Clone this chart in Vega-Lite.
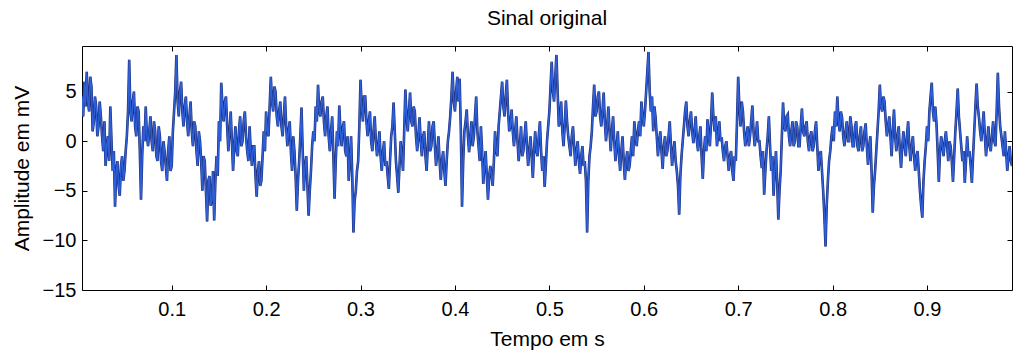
{
 "$schema": "https://vega.github.io/schema/vega-lite/v6.json",
 "width": 930, "height": 244,
 "autosize": {"type": "none"},
 "padding": {"left": 82, "top": 46, "right": 3, "bottom": 61},
 "background": "white",
 "config": {
  "view": {"stroke": null},
  "font": "Liberation Sans",
  "axis": {"domain": true, "domainColor": "#000", "domainWidth": 1, "grid": false, "tickSize": -5, "tickColor": "#000", "tickWidth": 1, "labelColor": "#000", "labelFontSize": 20, "titleFontSize": 21, "titleFontWeight": "normal", "titleColor": "#000"}
 },
 "title": {"text": "Sinal original", "fontSize": 21, "fontWeight": "normal", "color": "#000", "offset": 17},
 "data": {"values": [
{"t":0.005,"v":4.5},{"t":0.00625,"v":2.5},{"t":0.0075,"v":6.0},{"t":0.00875,"v":3.5},{"t":0.01,"v":7.0},{"t":0.01125,"v":4.0},{"t":0.0125,"v":3.0},{"t":0.01375,"v":6.5},
{"t":0.015,"v":5.5},{"t":0.01625,"v":1.0},{"t":0.0175,"v":2.0},{"t":0.01875,"v":4.5},{"t":0.02,"v":3.5},{"t":0.02125,"v":0.5},{"t":0.0225,"v":1.5},{"t":0.02375,"v":4.0},
{"t":0.025,"v":2.5},{"t":0.02625,"v":0.5},{"t":0.0275,"v":-1.0},{"t":0.02875,"v":2.0},{"t":0.03,"v":-2.5},{"t":0.03125,"v":-0.5},{"t":0.0325,"v":0.5},{"t":0.03375,"v":-2.0},
{"t":0.035,"v":3.5},{"t":0.03625,"v":0.0},{"t":0.0375,"v":-3.0},{"t":0.03875,"v":-1.0},{"t":0.04,"v":-6.6},{"t":0.04125,"v":-3.0},{"t":0.0425,"v":-2.0},{"t":0.04375,"v":-4.5},
{"t":0.045,"v":-5.5},{"t":0.04625,"v":-2.5},{"t":0.0475,"v":-1.5},{"t":0.04875,"v":-4.0},{"t":0.05,"v":-3.0},{"t":0.05125,"v":-1.0},{"t":0.0525,"v":0.5},{"t":0.05375,"v":3.0},
{"t":0.055,"v":8.2},{"t":0.05625,"v":3.0},{"t":0.0575,"v":2.0},{"t":0.05875,"v":4.0},{"t":0.06,"v":5.0},{"t":0.06125,"v":1.5},{"t":0.0625,"v":0.5},{"t":0.06375,"v":3.5},
{"t":0.065,"v":3.0},{"t":0.06625,"v":-1.0},{"t":0.0675,"v":-5.9},{"t":0.06875,"v":-1.5},{"t":0.07,"v":1.5},{"t":0.07125,"v":0.0},{"t":0.0725,"v":3.5},{"t":0.07375,"v":0.5},
{"t":0.075,"v":-0.5},{"t":0.07625,"v":1.0},{"t":0.0775,"v":2.5},{"t":0.07875,"v":0.0},{"t":0.08,"v":-1.0},{"t":0.08125,"v":2.0},{"t":0.0825,"v":1.0},{"t":0.08375,"v":-1.5},
{"t":0.085,"v":-2.0},{"t":0.08625,"v":1.5},{"t":0.0875,"v":0.5},{"t":0.08875,"v":-2.0},{"t":0.09,"v":-3.0},{"t":0.09125,"v":0.0},{"t":0.0925,"v":-1.0},{"t":0.09375,"v":-2.5},
{"t":0.095,"v":-4.0},{"t":0.09625,"v":-1.0},{"t":0.0975,"v":0.5},{"t":0.09875,"v":-3.0},{"t":0.1,"v":-2.5},{"t":0.10125,"v":1.0},{"t":0.1025,"v":3.0},{"t":0.10375,"v":5.0},
{"t":0.105,"v":8.7},{"t":0.10625,"v":4.0},{"t":0.1075,"v":2.5},{"t":0.10875,"v":5.0},{"t":0.11,"v":6.0},{"t":0.11125,"v":3.0},{"t":0.1125,"v":1.5},{"t":0.11375,"v":3.5},
{"t":0.115,"v":4.5},{"t":0.11625,"v":2.0},{"t":0.1175,"v":0.5},{"t":0.11875,"v":2.5},{"t":0.12,"v":4.0},{"t":0.12125,"v":1.0},{"t":0.1225,"v":-0.5},{"t":0.12375,"v":2.0},
{"t":0.125,"v":1.5},{"t":0.12625,"v":-1.0},{"t":0.1275,"v":-2.5},{"t":0.12875,"v":1.0},{"t":0.13,"v":0.0},{"t":0.13125,"v":-2.0},{"t":0.1325,"v":-5.0},{"t":0.13375,"v":-1.5},
{"t":0.135,"v":-2.0},{"t":0.13625,"v":-5.0},{"t":0.1375,"v":-8.1},{"t":0.13875,"v":-4.0},{"t":0.14,"v":-3.5},{"t":0.14125,"v":-6.5},{"t":0.1425,"v":-6.0},{"t":0.14375,"v":-3.0},
{"t":0.145,"v":-8.0},{"t":0.14625,"v":-4.0},{"t":0.1475,"v":-1.5},{"t":0.14875,"v":-3.5},{"t":0.15,"v":2.0},{"t":0.15125,"v":0.0},{"t":0.1525,"v":5.9},{"t":0.15375,"v":3.5},
{"t":0.155,"v":2.0},{"t":0.15625,"v":4.0},{"t":0.1575,"v":4.5},{"t":0.15875,"v":1.5},{"t":0.16,"v":-1.0},{"t":0.16125,"v":1.0},{"t":0.1625,"v":3.0},{"t":0.16375,"v":0.0},
{"t":0.165,"v":-3.0},{"t":0.16625,"v":-0.5},{"t":0.1675,"v":1.5},{"t":0.16875,"v":-1.0},{"t":0.17,"v":-1.5},{"t":0.17125,"v":1.0},{"t":0.1725,"v":2.5},{"t":0.17375,"v":-0.5},
{"t":0.175,"v":0.0},{"t":0.17625,"v":2.0},{"t":0.1775,"v":3.0},{"t":0.17875,"v":0.5},{"t":0.18,"v":-1.0},{"t":0.18125,"v":-2.0},{"t":0.1825,"v":1.5},{"t":0.18375,"v":-1.0},
{"t":0.185,"v":-2.5},{"t":0.18625,"v":-0.5},{"t":0.1875,"v":-0.5},{"t":0.18875,"v":-3.5},{"t":0.19,"v":-5.6},{"t":0.19125,"v":-3.0},{"t":0.1925,"v":-2.0},{"t":0.19375,"v":-4.5},
{"t":0.195,"v":-4.0},{"t":0.19625,"v":-1.5},{"t":0.1975,"v":1.0},{"t":0.19875,"v":-1.0},{"t":0.2,"v":3.0},{"t":0.20125,"v":1.0},{"t":0.2025,"v":0.5},{"t":0.20375,"v":3.5},
{"t":0.205,"v":6.5},{"t":0.20625,"v":4.0},{"t":0.2075,"v":3.0},{"t":0.20875,"v":5.5},{"t":0.21,"v":5.0},{"t":0.21125,"v":2.5},{"t":0.2125,"v":1.5},{"t":0.21375,"v":3.0},
{"t":0.215,"v":4.0},{"t":0.21625,"v":1.5},{"t":0.2175,"v":0.5},{"t":0.21875,"v":2.5},{"t":0.22,"v":4.5},{"t":0.22125,"v":1.5},{"t":0.2225,"v":-0.5},{"t":0.22375,"v":1.0},
{"t":0.225,"v":2.0},{"t":0.22625,"v":-1.0},{"t":0.2275,"v":-3.0},{"t":0.22875,"v":0.5},{"t":0.23,"v":-1.0},{"t":0.23125,"v":-3.5},{"t":0.2325,"v":-7.0},{"t":0.23375,"v":-4.0},
{"t":0.235,"v":-2.0},{"t":0.23625,"v":0.5},{"t":0.2375,"v":3.4},{"t":0.23875,"v":-1.0},{"t":0.24,"v":-5.0},{"t":0.24125,"v":-2.5},{"t":0.2425,"v":-1.5},{"t":0.24375,"v":-4.5},
{"t":0.245,"v":-7.5},{"t":0.24625,"v":-5.0},{"t":0.2475,"v":-3.0},{"t":0.24875,"v":-0.5},{"t":0.25,"v":1.0},{"t":0.25125,"v":0.0},{"t":0.2525,"v":3.5},{"t":0.25375,"v":2.0},
{"t":0.255,"v":5.7},{"t":0.25625,"v":3.0},{"t":0.2575,"v":2.5},{"t":0.25875,"v":4.0},{"t":0.26,"v":4.5},{"t":0.26125,"v":2.0},{"t":0.2625,"v":0.5},{"t":0.26375,"v":2.5},
{"t":0.265,"v":3.5},{"t":0.26625,"v":0.5},{"t":0.2675,"v":-1.0},{"t":0.26875,"v":1.0},{"t":0.27,"v":2.5},{"t":0.27125,"v":-1.5},{"t":0.2725,"v":-5.8},{"t":0.27375,"v":-2.0},
{"t":0.275,"v":1.0},{"t":0.27625,"v":-0.5},{"t":0.2775,"v":3.6},{"t":0.27875,"v":1.0},{"t":0.28,"v":-0.5},{"t":0.28125,"v":1.5},{"t":0.2825,"v":2.0},{"t":0.28375,"v":-1.0},
{"t":0.285,"v":-1.5},{"t":0.28625,"v":0.5},{"t":0.2875,"v":-4.0},{"t":0.28875,"v":-2.0},{"t":0.29,"v":0.5},{"t":0.29125,"v":-3.5},{"t":0.2925,"v":-9.2},{"t":0.29375,"v":-6.0},
{"t":0.295,"v":-5.0},{"t":0.29625,"v":-3.0},{"t":0.2975,"v":-2.0},{"t":0.29875,"v":1.5},{"t":0.3,"v":6.2},{"t":0.30125,"v":3.5},{"t":0.3025,"v":2.0},{"t":0.30375,"v":4.5},
{"t":0.305,"v":4.5},{"t":0.30625,"v":2.0},{"t":0.3075,"v":0.5},{"t":0.30875,"v":2.0},{"t":0.31,"v":3.0},{"t":0.31125,"v":0.0},{"t":0.3125,"v":-1.0},{"t":0.31375,"v":1.0},
{"t":0.315,"v":2.5},{"t":0.31625,"v":0.0},{"t":0.3175,"v":-1.5},{"t":0.31875,"v":-0.5},{"t":0.32,"v":1.0},{"t":0.32125,"v":-1.5},{"t":0.3225,"v":-3.0},{"t":0.32375,"v":-1.0},
{"t":0.325,"v":0.0},{"t":0.32625,"v":-2.5},{"t":0.3275,"v":-2.0},{"t":0.32875,"v":-3.5},{"t":0.33,"v":-4.8},{"t":0.33125,"v":-2.0},{"t":0.3325,"v":0.5},{"t":0.33375,"v":1.5},
{"t":0.335,"v":3.9},{"t":0.33625,"v":1.0},{"t":0.3375,"v":-2.0},{"t":0.33875,"v":-3.5},{"t":0.34,"v":-5.2},{"t":0.34125,"v":-2.5},{"t":0.3425,"v":0.0},{"t":0.34375,"v":-1.5},
{"t":0.345,"v":-3.0},{"t":0.34625,"v":1.0},{"t":0.3475,"v":5.2},{"t":0.34875,"v":2.5},{"t":0.35,"v":1.0},{"t":0.35125,"v":3.0},{"t":0.3525,"v":4.9},{"t":0.35375,"v":2.0},
{"t":0.355,"v":1.5},{"t":0.35625,"v":3.5},{"t":0.3575,"v":3.0},{"t":0.35875,"v":0.5},{"t":0.36,"v":-1.0},{"t":0.36125,"v":0.5},{"t":0.3625,"v":2.4},{"t":0.36375,"v":0.0},
{"t":0.365,"v":-1.5},{"t":0.36625,"v":0.5},{"t":0.3675,"v":1.0},{"t":0.36875,"v":-1.5},{"t":0.37,"v":-3.0},{"t":0.37125,"v":-0.5},{"t":0.3725,"v":2.0},{"t":0.37375,"v":-1.0},
{"t":0.375,"v":-0.5},{"t":0.37625,"v":1.5},{"t":0.3775,"v":2.0},{"t":0.37875,"v":-0.5},{"t":0.38,"v":-2.5},{"t":0.38125,"v":-1.0},{"t":0.3825,"v":0.5},{"t":0.38375,"v":-2.0},
{"t":0.385,"v":-3.9},{"t":0.38625,"v":-2.0},{"t":0.3875,"v":-1.0},{"t":0.38875,"v":-3.0},{"t":0.39,"v":-4.5},{"t":0.39125,"v":-2.0},{"t":0.3925,"v":0.0},{"t":0.39375,"v":1.0},
{"t":0.395,"v":2.5},{"t":0.39625,"v":4.5},{"t":0.3975,"v":7.0},{"t":0.39875,"v":4.0},{"t":0.4,"v":3.0},{"t":0.40125,"v":5.0},{"t":0.4025,"v":6.5},{"t":0.40375,"v":4.0},
{"t":0.405,"v":6.3},{"t":0.40625,"v":1.0},{"t":0.4075,"v":-6.6},{"t":0.40875,"v":-2.0},{"t":0.41,"v":1.0},{"t":0.41125,"v":2.0},{"t":0.4125,"v":3.2},{"t":0.41375,"v":0.5},
{"t":0.415,"v":-1.1},{"t":0.41625,"v":0.5},{"t":0.4175,"v":2.0},{"t":0.41875,"v":-0.5},{"t":0.42,"v":0.5},{"t":0.42125,"v":2.5},{"t":0.4225,"v":4.5},{"t":0.42375,"v":1.0},
{"t":0.425,"v":-0.5},{"t":0.42625,"v":-2.0},{"t":0.4275,"v":1.5},{"t":0.42875,"v":-1.0},{"t":0.43,"v":-4.3},{"t":0.43125,"v":-2.5},{"t":0.4325,"v":-1.0},{"t":0.43375,"v":-3.5},
{"t":0.435,"v":-5.9},{"t":0.43625,"v":-3.5},{"t":0.4375,"v":-2.5},{"t":0.43875,"v":-3.5},{"t":0.44,"v":-4.5},{"t":0.44125,"v":-2.0},{"t":0.4425,"v":1.0},{"t":0.44375,"v":-1.0},
{"t":0.445,"v":-1.5},{"t":0.44625,"v":1.5},{"t":0.4475,"v":3.0},{"t":0.44875,"v":4.5},{"t":0.45,"v":6.0},{"t":0.45125,"v":3.5},{"t":0.4525,"v":2.5},{"t":0.45375,"v":4.5},
{"t":0.455,"v":6.2},{"t":0.45625,"v":3.0},{"t":0.4575,"v":1.0},{"t":0.45875,"v":1.5},{"t":0.46,"v":3.2},{"t":0.46125,"v":1.0},{"t":0.4625,"v":-0.5},{"t":0.46375,"v":1.0},
{"t":0.465,"v":2.5},{"t":0.46625,"v":0.0},{"t":0.4675,"v":-2.0},{"t":0.46875,"v":-0.5},{"t":0.47,"v":1.5},{"t":0.47125,"v":-1.5},{"t":0.4725,"v":-1.0},{"t":0.47375,"v":0.5},
{"t":0.475,"v":2.0},{"t":0.47625,"v":-0.5},{"t":0.4775,"v":-2.5},{"t":0.47875,"v":-1.0},{"t":0.48,"v":0.5},{"t":0.48125,"v":-1.5},{"t":0.4825,"v":-3.7},{"t":0.48375,"v":-1.0},
{"t":0.485,"v":1.0},{"t":0.48625,"v":-1.0},{"t":0.4875,"v":-1.5},{"t":0.48875,"v":0.5},{"t":0.49,"v":2.0},{"t":0.49125,"v":-1.0},{"t":0.4925,"v":-3.0},{"t":0.49375,"v":-1.5},
{"t":0.495,"v":-4.6},{"t":0.49625,"v":-2.5},{"t":0.4975,"v":0.0},{"t":0.49875,"v":1.5},{"t":0.5,"v":3.0},{"t":0.50125,"v":5.5},{"t":0.5025,"v":8.0},{"t":0.50375,"v":5.0},
{"t":0.505,"v":4.0},{"t":0.50625,"v":6.5},{"t":0.5075,"v":8.7},{"t":0.50875,"v":5.0},{"t":0.51,"v":1.5},{"t":0.51125,"v":2.0},{"t":0.5125,"v":4.0},{"t":0.51375,"v":1.0},
{"t":0.515,"v":-0.5},{"t":0.51625,"v":1.5},{"t":0.5175,"v":4.1},{"t":0.51875,"v":2.0},{"t":0.52,"v":0.5},{"t":0.52125,"v":-0.5},{"t":0.5225,"v":-1.5},{"t":0.52375,"v":0.5},
{"t":0.525,"v":1.5},{"t":0.52625,"v":-0.5},{"t":0.5275,"v":-2.5},{"t":0.52875,"v":-1.0},{"t":0.53,"v":0.0},{"t":0.53125,"v":-2.0},{"t":0.5325,"v":-3.3},{"t":0.53375,"v":-1.5},
{"t":0.535,"v":-0.5},{"t":0.53625,"v":-2.5},{"t":0.5375,"v":-2.0},{"t":0.53875,"v":-4.0},{"t":0.54,"v":-9.2},{"t":0.54125,"v":-4.0},{"t":0.5425,"v":-1.5},{"t":0.54375,"v":-0.5},
{"t":0.545,"v":1.0},{"t":0.54625,"v":3.5},{"t":0.5475,"v":5.7},{"t":0.54875,"v":2.5},{"t":0.55,"v":3.0},{"t":0.55125,"v":4.5},{"t":0.5525,"v":5.0},{"t":0.55375,"v":2.5},
{"t":0.555,"v":1.5},{"t":0.55625,"v":3.0},{"t":0.5575,"v":4.9},{"t":0.55875,"v":2.0},{"t":0.56,"v":0.0},{"t":0.56125,"v":1.5},{"t":0.5625,"v":3.5},{"t":0.56375,"v":1.0},
{"t":0.565,"v":-1.0},{"t":0.56625,"v":1.0},{"t":0.5675,"v":2.5},{"t":0.56875,"v":0.0},{"t":0.57,"v":-2.0},{"t":0.57125,"v":-0.5},{"t":0.5725,"v":1.0},{"t":0.57375,"v":-1.5},
{"t":0.575,"v":-3.0},{"t":0.57625,"v":-1.0},{"t":0.5775,"v":0.5},{"t":0.57875,"v":-2.0},{"t":0.58,"v":-3.9},{"t":0.58125,"v":-2.0},{"t":0.5825,"v":-1.0},{"t":0.58375,"v":-3.0},
{"t":0.585,"v":-2.5},{"t":0.58625,"v":-1.0},{"t":0.5875,"v":0.5},{"t":0.58875,"v":-1.5},{"t":0.59,"v":2.0},{"t":0.59125,"v":0.5},{"t":0.5925,"v":-0.5},{"t":0.59375,"v":1.0},
{"t":0.595,"v":2.0},{"t":0.59625,"v":0.5},{"t":0.5975,"v":4.0},{"t":0.59875,"v":2.5},{"t":0.6,"v":1.5},{"t":0.60125,"v":3.0},{"t":0.6025,"v":5.0},{"t":0.60375,"v":7.0},
{"t":0.605,"v":9.0},{"t":0.60625,"v":5.0},{"t":0.6075,"v":3.0},{"t":0.60875,"v":4.5},{"t":0.61,"v":1.0},{"t":0.61125,"v":3.5},{"t":0.6125,"v":2.4},{"t":0.61375,"v":0.5},
{"t":0.615,"v":-1.5},{"t":0.61625,"v":0.0},{"t":0.6175,"v":1.0},{"t":0.61875,"v":-1.0},{"t":0.62,"v":-2.8},{"t":0.62125,"v":-0.5},{"t":0.6225,"v":0.5},{"t":0.62375,"v":-1.5},
{"t":0.625,"v":-1.0},{"t":0.62625,"v":0.5},{"t":0.6275,"v":2.0},{"t":0.62875,"v":-0.5},{"t":0.63,"v":-2.5},{"t":0.63125,"v":-1.0},{"t":0.6325,"v":0.0},{"t":0.63375,"v":-2.0},
{"t":0.635,"v":-3.0},{"t":0.63625,"v":-4.5},{"t":0.6375,"v":-7.4},{"t":0.63875,"v":-3.5},{"t":0.64,"v":-1.5},{"t":0.64125,"v":0.0},{"t":0.6425,"v":1.5},{"t":0.64375,"v":3.0},
{"t":0.645,"v":4.0},{"t":0.64625,"v":1.5},{"t":0.6475,"v":0.5},{"t":0.64875,"v":2.0},{"t":0.65,"v":3.0},{"t":0.65125,"v":1.0},{"t":0.6525,"v":-0.2},{"t":0.65375,"v":1.0},
{"t":0.655,"v":2.5},{"t":0.65625,"v":0.0},{"t":0.6575,"v":-1.0},{"t":0.65875,"v":0.5},{"t":0.66,"v":1.5},{"t":0.66125,"v":-1.5},{"t":0.6625,"v":-3.8},{"t":0.66375,"v":-1.0},
{"t":0.665,"v":0.5},{"t":0.66625,"v":-1.0},{"t":0.6675,"v":2.2},{"t":0.66875,"v":0.5},{"t":0.67,"v":-0.5},{"t":0.67125,"v":2.0},{"t":0.6725,"v":4.9},{"t":0.67375,"v":2.5},
{"t":0.675,"v":1.0},{"t":0.67625,"v":2.5},{"t":0.6775,"v":-0.5},{"t":0.67875,"v":0.5},{"t":0.68,"v":2.0},{"t":0.68125,"v":0.0},{"t":0.6825,"v":0.4},{"t":0.68375,"v":-1.0},
{"t":0.685,"v":-2.0},{"t":0.68625,"v":-0.5},{"t":0.6875,"v":0.0},{"t":0.68875,"v":-1.5},{"t":0.69,"v":-3.0},{"t":0.69125,"v":-1.5},{"t":0.6925,"v":-1.0},{"t":0.69375,"v":-3.0},
{"t":0.695,"v":-4.0},{"t":0.69625,"v":-1.5},{"t":0.6975,"v":-2.0},{"t":0.69875,"v":2.0},{"t":0.7,"v":6.5},{"t":0.70125,"v":3.5},{"t":0.7025,"v":1.5},{"t":0.70375,"v":4.0},
{"t":0.705,"v":3.0},{"t":0.70625,"v":1.0},{"t":0.7075,"v":-0.5},{"t":0.70875,"v":0.5},{"t":0.71,"v":1.5},{"t":0.71125,"v":-0.5},{"t":0.7125,"v":0.5},{"t":0.71375,"v":2.0},
{"t":0.715,"v":3.6},{"t":0.71625,"v":1.0},{"t":0.7175,"v":-0.5},{"t":0.71875,"v":0.5},{"t":0.72,"v":2.0},{"t":0.72125,"v":0.0},{"t":0.7225,"v":0.0},{"t":0.72375,"v":-1.5},
{"t":0.725,"v":-2.7},{"t":0.72625,"v":-1.0},{"t":0.7275,"v":-5.4},{"t":0.72875,"v":-3.0},{"t":0.73,"v":-1.0},{"t":0.73125,"v":0.5},{"t":0.7325,"v":2.5},{"t":0.73375,"v":-0.5},
{"t":0.735,"v":-3.0},{"t":0.73625,"v":-1.5},{"t":0.7375,"v":-5.5},{"t":0.73875,"v":-3.0},{"t":0.74,"v":-1.0},{"t":0.74125,"v":-4.0},{"t":0.7425,"v":-7.9},{"t":0.74375,"v":-5.0},
{"t":0.745,"v":-3.0},{"t":0.74625,"v":0.5},{"t":0.7475,"v":3.9},{"t":0.74875,"v":1.5},{"t":0.75,"v":1.0},{"t":0.75125,"v":2.5},{"t":0.7525,"v":2.7},{"t":0.75375,"v":0.5},
{"t":0.755,"v":-0.5},{"t":0.75625,"v":1.0},{"t":0.7575,"v":2.0},{"t":0.75875,"v":-0.5},{"t":0.76,"v":0.0},{"t":0.76125,"v":2.0},{"t":0.7625,"v":1.5},{"t":0.76375,"v":-0.5},
{"t":0.765,"v":-0.5},{"t":0.76625,"v":1.5},{"t":0.7675,"v":3.3},{"t":0.76875,"v":1.0},{"t":0.77,"v":0.5},{"t":0.77125,"v":1.5},{"t":0.7725,"v":2.0},{"t":0.77375,"v":0.0},
{"t":0.775,"v":-1.0},{"t":0.77625,"v":0.5},{"t":0.7775,"v":1.0},{"t":0.77875,"v":-1.0},{"t":0.78,"v":-0.5},{"t":0.78125,"v":1.0},{"t":0.7825,"v":2.0},{"t":0.78375,"v":-0.5},
{"t":0.785,"v":-3.0},{"t":0.78625,"v":-1.5},{"t":0.7875,"v":-1.0},{"t":0.78875,"v":-3.0},{"t":0.79,"v":-5.0},{"t":0.79125,"v":-7.5},{"t":0.7925,"v":-10.6},{"t":0.79375,"v":-6.5},
{"t":0.795,"v":-4.0},{"t":0.79625,"v":-2.0},{"t":0.7975,"v":-1.0},{"t":0.79875,"v":0.5},{"t":0.8,"v":1.5},{"t":0.80125,"v":0.0},{"t":0.8025,"v":3.0},{"t":0.80375,"v":1.5},
{"t":0.805,"v":4.5},{"t":0.80625,"v":2.0},{"t":0.8075,"v":1.0},{"t":0.80875,"v":3.0},{"t":0.81,"v":2.4},{"t":0.81125,"v":0.5},{"t":0.8125,"v":-0.5},{"t":0.81375,"v":1.0},
{"t":0.815,"v":2.0},{"t":0.81625,"v":0.0},{"t":0.8175,"v":0.0},{"t":0.81875,"v":2.5},{"t":0.82,"v":1.5},{"t":0.82125,"v":-0.5},{"t":0.8225,"v":-0.5},{"t":0.82375,"v":1.5},
{"t":0.825,"v":2.0},{"t":0.82625,"v":-0.5},{"t":0.8275,"v":-1.0},{"t":0.82875,"v":0.5},{"t":0.83,"v":1.5},{"t":0.83125,"v":-1.0},{"t":0.8325,"v":-0.5},{"t":0.83375,"v":1.0},
{"t":0.835,"v":1.8},{"t":0.83625,"v":-0.5},{"t":0.8375,"v":-2.4},{"t":0.83875,"v":-0.5},{"t":0.84,"v":0.5},{"t":0.84125,"v":-3.0},{"t":0.8425,"v":-7.2},{"t":0.84375,"v":-4.5},
{"t":0.845,"v":-3.0},{"t":0.84625,"v":-1.0},{"t":0.8475,"v":1.0},{"t":0.84875,"v":3.0},{"t":0.85,"v":5.7},{"t":0.85125,"v":3.5},{"t":0.8525,"v":3.0},{"t":0.85375,"v":4.5},
{"t":0.855,"v":4.0},{"t":0.85625,"v":2.0},{"t":0.8575,"v":0.5},{"t":0.85875,"v":1.5},{"t":0.86,"v":2.5},{"t":0.86125,"v":0.5},{"t":0.8625,"v":-1.5},{"t":0.86375,"v":1.0},
{"t":0.865,"v":3.2},{"t":0.86625,"v":0.5},{"t":0.8675,"v":-1.0},{"t":0.86875,"v":0.5},{"t":0.87,"v":1.5},{"t":0.87125,"v":-1.0},{"t":0.8725,"v":-2.7},{"t":0.87375,"v":-0.5},
{"t":0.875,"v":1.0},{"t":0.87625,"v":-0.5},{"t":0.8775,"v":-1.5},{"t":0.87875,"v":0.5},{"t":0.88,"v":2.0},{"t":0.88125,"v":-0.5},{"t":0.8825,"v":-2.0},{"t":0.88375,"v":-0.5},
{"t":0.885,"v":0.5},{"t":0.88625,"v":-1.5},{"t":0.8875,"v":-3.0},{"t":0.88875,"v":-1.5},{"t":0.89,"v":-1.0},{"t":0.89125,"v":-3.0},{"t":0.8925,"v":-5.0},{"t":0.89375,"v":-6.5},
{"t":0.895,"v":-7.7},{"t":0.89625,"v":-4.0},{"t":0.8975,"v":-2.0},{"t":0.89875,"v":-0.5},{"t":0.9,"v":1.5},{"t":0.90125,"v":0.0},{"t":0.9025,"v":3.0},{"t":0.90375,"v":4.5},
{"t":0.905,"v":5.9},{"t":0.90625,"v":3.0},{"t":0.9075,"v":2.0},{"t":0.90875,"v":3.5},{"t":0.91,"v":1.8},{"t":0.91125,"v":-1.0},{"t":0.9125,"v":-4.1},{"t":0.91375,"v":-1.0},
{"t":0.915,"v":0.5},{"t":0.91625,"v":-0.5},{"t":0.9175,"v":-1.5},{"t":0.91875,"v":0.0},{"t":0.92,"v":1.0},{"t":0.92125,"v":-0.5},{"t":0.9225,"v":-2.0},{"t":0.92375,"v":0.0},
{"t":0.925,"v":-0.5},{"t":0.92625,"v":-2.0},{"t":0.9275,"v":-4.1},{"t":0.92875,"v":-1.5},{"t":0.93,"v":1.0},{"t":0.93125,"v":3.0},{"t":0.9325,"v":5.3},{"t":0.93375,"v":2.5},
{"t":0.935,"v":1.0},{"t":0.93625,"v":-0.5},{"t":0.9375,"v":-2.0},{"t":0.93875,"v":-1.0},{"t":0.94,"v":-4.2},{"t":0.94125,"v":-2.0},{"t":0.9425,"v":0.5},{"t":0.94375,"v":-1.5},
{"t":0.945,"v":-1.0},{"t":0.94625,"v":-2.5},{"t":0.9475,"v":-4.2},{"t":0.94875,"v":-1.5},{"t":0.95,"v":1.0},{"t":0.95125,"v":3.5},{"t":0.9525,"v":5.8},{"t":0.95375,"v":3.5},
{"t":0.955,"v":2.4},{"t":0.95625,"v":1.0},{"t":0.9575,"v":0.0},{"t":0.95875,"v":1.5},{"t":0.96,"v":3.0},{"t":0.96125,"v":0.5},{"t":0.9625,"v":-1.5},{"t":0.96375,"v":0.0},
{"t":0.965,"v":1.5},{"t":0.96625,"v":-0.5},{"t":0.9675,"v":-1.0},{"t":0.96875,"v":0.5},{"t":0.97,"v":2.0},{"t":0.97125,"v":0.0},{"t":0.9725,"v":-0.5},{"t":0.97375,"v":3.0},
{"t":0.975,"v":6.9},{"t":0.97625,"v":3.5},{"t":0.9775,"v":1.5},{"t":0.97875,"v":0.5},{"t":0.98,"v":-0.5},{"t":0.98125,"v":-1.5},{"t":0.9825,"v":1.0},{"t":0.98375,"v":-1.0},
{"t":0.985,"v":-3.0},{"t":0.98625,"v":-1.5},{"t":0.9875,"v":-0.5},{"t":0.98875,"v":-2.0},{"t":0.99,"v":-2.5}
 ]},
 "layer": [
  {
   "mark": {"type": "line", "color": "#1b2c78", "strokeWidth": 2.6, "clip": true},
   "encoding": {
    "x": {"field": "t", "type": "quantitative", "scale": {"domain": [0.005, 0.99], "nice": false, "zero": false},
          "axis": {"orient": "bottom", "values": [0.1, 0.2, 0.3, 0.4, 0.5, 0.6, 0.7, 0.8, 0.9], "title": "Tempo em s", "labelFontSize": 20, "labelPadding": 14, "titlePadding": 9}},
    "y": {"field": "v", "type": "quantitative", "scale": {"domain": [-15, 9.6], "nice": false, "zero": false},
          "axis": {"orient": "left", "values": [-15, -10, -5, 0, 5], "title": "Amplitude em mV", "labelFontSize": 20, "labelPadding": 11, "titlePadding": 10}}
   }
  },
  {
   "mark": {"type": "line", "color": "#2f5fd6", "strokeWidth": 1.5, "clip": true},
   "encoding": {
    "x": {"field": "t", "type": "quantitative", "axis": {"orient": "top", "values": [0.1, 0.2, 0.3, 0.4, 0.5, 0.6, 0.7, 0.8, 0.9], "labels": false, "title": null}},
    "y": {"field": "v", "type": "quantitative", "axis": {"orient": "right", "values": [-15, -10, -5, 0, 5], "labels": false, "title": null}}
   }
  }
 ],
 "resolve": {"axis": {"x": "independent", "y": "independent"}}
}
